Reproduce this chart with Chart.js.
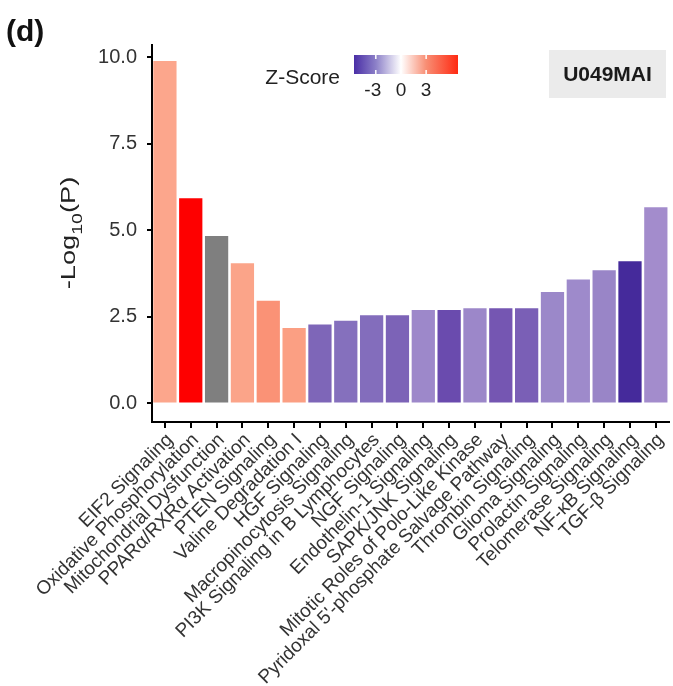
<!DOCTYPE html>
<html>
<head>
<meta charset="utf-8">
<script src="https://cdn.jsdelivr.net/npm/chart.js@4/dist/chart.umd.min.js"></script>
<style>
  html, body { margin: 0; padding: 0; background: #ffffff; }
  #wrap { width: 673px; height: 686px; }
</style>
</head>
<body>
<div id="wrap"><canvas id="chart" width="673" height="686"></canvas></div>
<script>
// Canonical pathways, ordered as plotted
const pathways = [
  'EIF2 Signaling',
  'Oxidative Phosphorylation',
  'Mitochondrial Dysfunction',
  'PPARα/RXRα Activation',
  'PTEN Signaling',
  'Valine Degradation I',
  'HGF Signaling',
  'Macropinocytosis Signaling',
  'PI3K Signaling in B Lymphocytes',
  'NGF Signaling',
  'Endothelin-1 Signaling',
  'SAPK/JNK Signaling',
  'Mitotic Roles of Polo-Like Kinase',
  "Pyridoxal 5'-phosphate Salvage Pathway",
  'Thrombin Signaling',
  'Glioma Signaling',
  'Prolactin Signaling',
  'Telomerase Signaling',
  'NF-κB Signaling',
  'TGF-β Signaling'
];

// -log10(p) per pathway
const negLogP = [9.9, 5.93, 4.84, 4.05, 2.97, 2.18, 2.28, 2.39, 2.55, 2.55,
                 2.7, 2.7, 2.75, 2.75, 2.75, 3.22, 3.58, 3.85, 4.11, 5.67];

// Bar fill per pathway, taken from the z-score colour scale (grey = no z-score)
const barColors = [
  '#fca68c', '#fe0000', '#7f7f7f', '#fba489', '#fa9276', '#fb9f83',
  '#7e66b8', '#8570bd', '#836dbc', '#7c63b7', '#9d88ca', '#6a4bae',
  '#9c87c9', '#7556b2', '#7a5fb6', '#9b88c9', '#9e8acb', '#9985c7',
  '#452a9b', '#a38ccc'
];

const yTicks = [0, 2.5, 5, 7.5, 10];
const zTicks = [-3, 0, 3];
const zRange = [-5.6, 6.8];
const panelTag = '(d)';
const sampleName = 'U049MAI';
const legendTitle = 'Z-Score';

const FONT = '"Liberation Sans", Arial, Helvetica, sans-serif';

// Panel tag, y-axis title with subscript, z-score colour bar and sample box
const overlay = {
  id: 'overlay',
  afterDraw(chart) {
    const ctx = chart.ctx;
    ctx.save();

    // panel tag
    ctx.fillStyle = '#111';
    ctx.textBaseline = 'alphabetic';
    ctx.textAlign = 'left';
    ctx.font = 'bold 30px ' + FONT;
    ctx.fillText(panelTag, 6, 41);

    // y-axis title: -Log10(P)
    ctx.save();
    ctx.translate(75, 233);
    ctx.rotate(-Math.PI / 2);
    ctx.scale(1.3, 1);
    ctx.fillStyle = '#222';
    const big = '21px ' + FONT, small = '15px ' + FONT;
    ctx.font = big;
    const w1 = ctx.measureText('-Log').width;
    const w3 = ctx.measureText('(P)').width;
    ctx.font = small;
    const w2 = ctx.measureText('10').width;
    let x = -(w1 + w2 + w3) / 2;
    ctx.font = big;
    ctx.fillText('-Log', x, 0); x += w1;
    ctx.font = small;
    ctx.fillText('10', x, 7); x += w2;
    ctx.font = big;
    ctx.fillText('(P)', x, 0);
    ctx.restore();

    // colour bar legend
    const bx = 354, by = 55, bw = 104, bh = 19;
    const zToX = z => bx + (z - zRange[0]) / (zRange[1] - zRange[0]) * bw;
    const grad = ctx.createLinearGradient(bx, 0, bx + bw, 0);
    const f = z => (z - zRange[0]) / (zRange[1] - zRange[0]);
    grad.addColorStop(0, '#4a2ea6');
    grad.addColorStop(f(-3), '#8c80c8');
    grad.addColorStop(f(0), '#ffffff');
    grad.addColorStop(f(3), '#f88e74');
    grad.addColorStop(1, '#ff2a12');
    ctx.fillStyle = grad;
    ctx.fillRect(bx, by, bw, bh);
    ctx.strokeStyle = '#ffffff';
    ctx.lineWidth = 1.5;
    zTicks.forEach(z => {
      const tx = zToX(z);
      ctx.beginPath();
      ctx.moveTo(tx, by); ctx.lineTo(tx, by + 4);
      ctx.moveTo(tx, by + bh); ctx.lineTo(tx, by + bh - 4);
      ctx.stroke();
    });
    ctx.fillStyle = '#222';
    ctx.font = '19px ' + FONT;
    ctx.textAlign = 'center';
    ctx.textBaseline = 'middle';
    zTicks.forEach(z => ctx.fillText(String(z), zToX(z) - (z < 0 ? 3 : 0), 91));
    ctx.font = '21px ' + FONT;
    ctx.textAlign = 'right';
    ctx.fillText(legendTitle, 340, 78);

    // sample label box
    ctx.fillStyle = '#ebebeb';
    ctx.fillRect(549, 50, 117, 48);
    ctx.fillStyle = '#1a1a1a';
    ctx.font = 'bold 21px ' + FONT;
    ctx.textAlign = 'center';
    ctx.fillText(sampleName, 607.5, 75);

    ctx.restore();
  }
};

new Chart(document.getElementById('chart'), {
  type: 'bar',
  data: {
    labels: pathways,
    datasets: [{
      data: negLogP,
      backgroundColor: barColors,
      borderWidth: 0,
      barPercentage: 0.9,
      categoryPercentage: 1.0
    }]
  },
  options: {
    responsive: false,
    animation: false,
    devicePixelRatio: 1,
    layout: { padding: { top: 45, right: 2, left: 0, bottom: 0 } },
    plugins: { legend: { display: false }, tooltip: { enabled: false } },
    scales: {
      x: {
        grid: { drawOnChartArea: false, offset: false, color: '#000', lineWidth: 2, tickLength: 6 },
        border: { color: '#000', width: 2 },
        ticks: {
          autoSkip: false, maxRotation: 45, minRotation: 45,
          color: '#333', padding: 1, labelOffset: 5,
          font: { family: FONT, size: 19 }
        },
        afterFit(s) { s.height = 264; }
      },
      y: {
        min: -0.535, max: 10.36,
        afterBuildTicks(s) { s.ticks = yTicks.map(v => ({ value: v })); },
        grid: { drawOnChartArea: false, color: '#000', lineWidth: 2, tickLength: 5 },
        border: { color: '#000', width: 2 },
        ticks: {
          color: '#333', padding: 10,
          font: { family: FONT, size: 20 },
          callback: v => Number(v).toFixed(1)
        },
        afterFit(s) { s.width = 152; }
      }
    }
  },
  plugins: [overlay]
});
</script>
</body>
</html>
